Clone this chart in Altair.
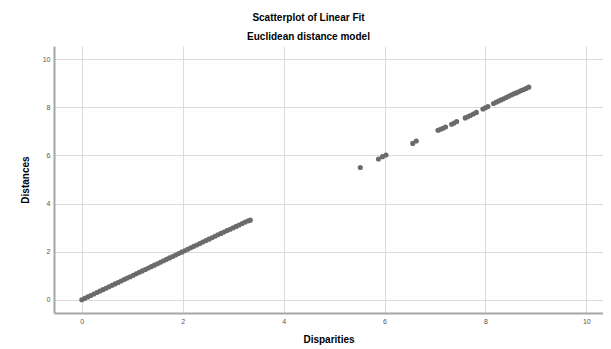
import altair as alt
import pandas as pd

# Segment 1 (dense run near the origin)
disp_low = [0.00, 0.06, 0.12, 0.18, 0.24, 0.30, 0.36, 0.42, 0.48, 0.54, 0.60, 0.66,
            0.72, 0.78, 0.84, 0.90, 0.96, 1.02, 1.08, 1.14, 1.20, 1.26, 1.32, 1.38,
            1.44, 1.50, 1.56, 1.62, 1.68, 1.74, 1.80, 1.86, 1.92, 1.98, 2.04, 2.10,
            2.16, 2.22, 2.28, 2.34, 2.40, 2.46, 2.52, 2.58, 2.64, 2.70, 2.76, 2.82,
            2.88, 2.94, 3.00, 3.06, 3.12, 3.18, 3.24, 3.30, 3.34]
dist_low = [0.00, 0.06, 0.12, 0.18, 0.24, 0.30, 0.36, 0.42, 0.48, 0.54, 0.60, 0.66,
            0.72, 0.78, 0.84, 0.90, 0.96, 1.02, 1.08, 1.14, 1.20, 1.26, 1.32, 1.38,
            1.44, 1.50, 1.56, 1.62, 1.68, 1.74, 1.80, 1.86, 1.92, 1.98, 2.04, 2.10,
            2.16, 2.22, 2.28, 2.34, 2.40, 2.46, 2.52, 2.58, 2.64, 2.70, 2.76, 2.82,
            2.88, 2.93, 2.99, 3.05, 3.11, 3.17, 3.23, 3.28, 3.31]

# Segment 2 (upper cluster)
disp_high = [5.52, 5.88, 5.96, 6.03, 6.56, 6.63, 7.06, 7.11, 7.16, 7.21, 7.33, 7.38,
             7.43, 7.60, 7.65, 7.70, 7.76, 7.82, 7.95, 8.00, 8.05, 8.16, 8.21, 8.26,
             8.31, 8.36, 8.41, 8.46, 8.51, 8.56, 8.61, 8.66, 8.71, 8.76, 8.81, 8.86]
dist_high = [5.50, 5.85, 5.95, 6.02, 6.50, 6.60, 7.05, 7.09, 7.13, 7.18, 7.30, 7.35,
             7.41, 7.56, 7.61, 7.66, 7.72, 7.79, 7.93, 7.98, 8.03, 8.16, 8.21, 8.26,
             8.31, 8.36, 8.41, 8.46, 8.51, 8.56, 8.60, 8.65, 8.70, 8.74, 8.79, 8.84]

tick_vals = [0, 2, 4, 6, 8, 10]

df = pd.DataFrame({
    "Disparities": disp_low + disp_high,
    "Distances": dist_low + dist_high,
})

FONT = "Liberation Sans"

chart = alt.Chart(df).mark_circle(size=26, color="#6b6b6b", opacity=1).encode(
    x=alt.X("Disparities:Q",
            scale=alt.Scale(domain=[-0.55, 10.33], nice=False, zero=False),
            axis=alt.Axis(values=tick_vals, title="Disparities", ticks=False,
                          labelPadding=4, titlePadding=10)),
    y=alt.Y("Distances:Q",
            scale=alt.Scale(domain=[-0.55, 10.55], nice=False, zero=False),
            axis=alt.Axis(values=tick_vals, title="Distances", ticks=False,
                          labelPadding=4, titlePadding=12)),
).properties(
    width=549,
    height=267,
    autosize=alt.AutoSizeParams(type="none"),
    padding={"left": 46, "top": 38, "right": 0, "bottom": 36},
    title=alt.TitleParams(
        text="Scatterplot of Linear Fit",
        subtitle="Euclidean distance model",
        anchor="middle",
        font=FONT,
        fontSize=10,
        fontWeight="bold",
        color="#000000",
        subtitleFont=FONT,
        subtitleFontSize=10,
        subtitleFontWeight="bold",
        subtitleColor="#000000",
        subtitlePadding=9,
        offset=4,
        dx=-20,
    ),
).configure_view(
    stroke=None
).configure_axis(
    gridColor="#dcdcdc",
    gridWidth=1,
    domainColor="#a6a6a6",
    domainWidth=2,
    labelFont=FONT,
    labelFontSize=7,
    labelColor="#555555",
    titleFont=FONT,
    titleFontSize=10,
    titleFontWeight="bold",
    titleColor="#000000",
)

chart.save("out.html", embed_options={"renderer": "svg", "actions": False})
